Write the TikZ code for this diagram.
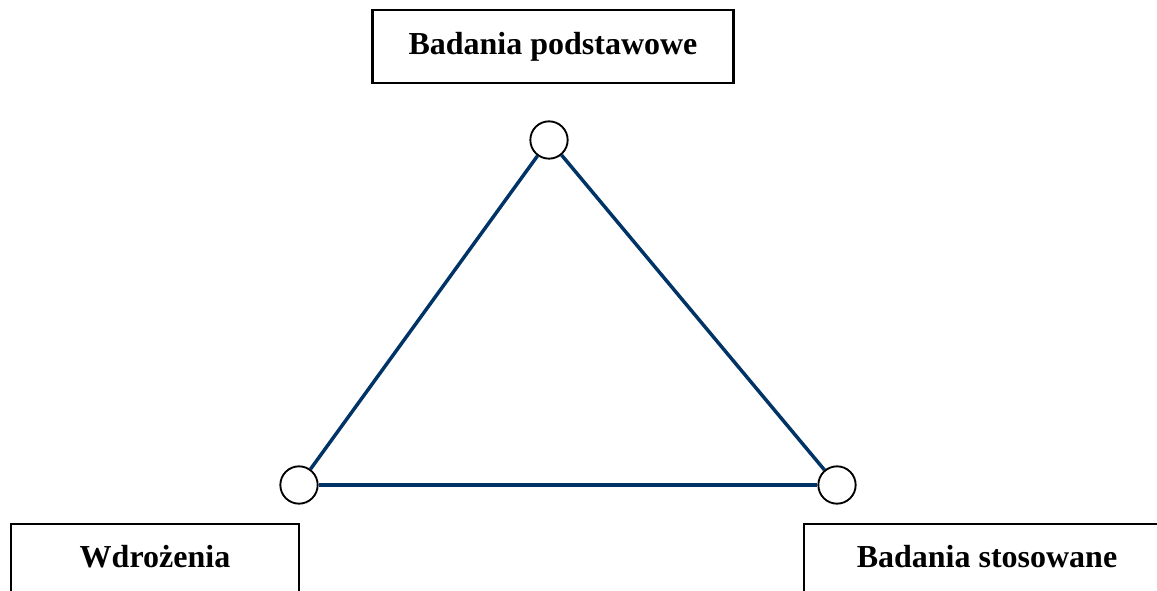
\documentclass[tikz,border=0pt]{standalone}
\usepackage{fontspec}
\setmainfont{Liberation Serif}
\definecolor{navy}{RGB}{0,51,102}
\begin{document}
\begin{tikzpicture}[x=0.75pt,y=-0.75pt,
  label/.style={font=\bfseries\fontsize{24}{28}\selectfont},
  box/.style={draw=black,line width=1.6pt,fill=white,inner sep=0pt,label},
  vert/.style={circle,draw=black,line width=1.4pt,fill=white,minimum size=28pt,inner sep=0pt},
  edge/.style={draw=navy,line width=2.6pt}]
\useasboundingbox (0,0) rectangle (1157,591);
\clip (0,0) rectangle (1157,591);
\node[box,minimum width=270.75pt,minimum height=54.75pt] (top) at (553,46.5) {Badania podstawowe};
\node[box,minimum width=216pt,minimum height=54pt] (left) at (155,560) {};
\node[label] (lefttext) at (155,557) {Wdrożenia};
\node[box,minimum width=275pt,minimum height=54pt] (right) at (987,560) {};
\node[label] (righttext) at (987,557) {Badania stosowane};
\node[vert] (a) at (549,140) {};
\node[vert] (b) at (299,485) {};
\node[vert] (c) at (837,485) {};
\draw[edge] (a) -- (b);
\draw[edge] (a) -- (c);
\draw[edge] (b) -- (c);
\end{tikzpicture}
\end{document}
